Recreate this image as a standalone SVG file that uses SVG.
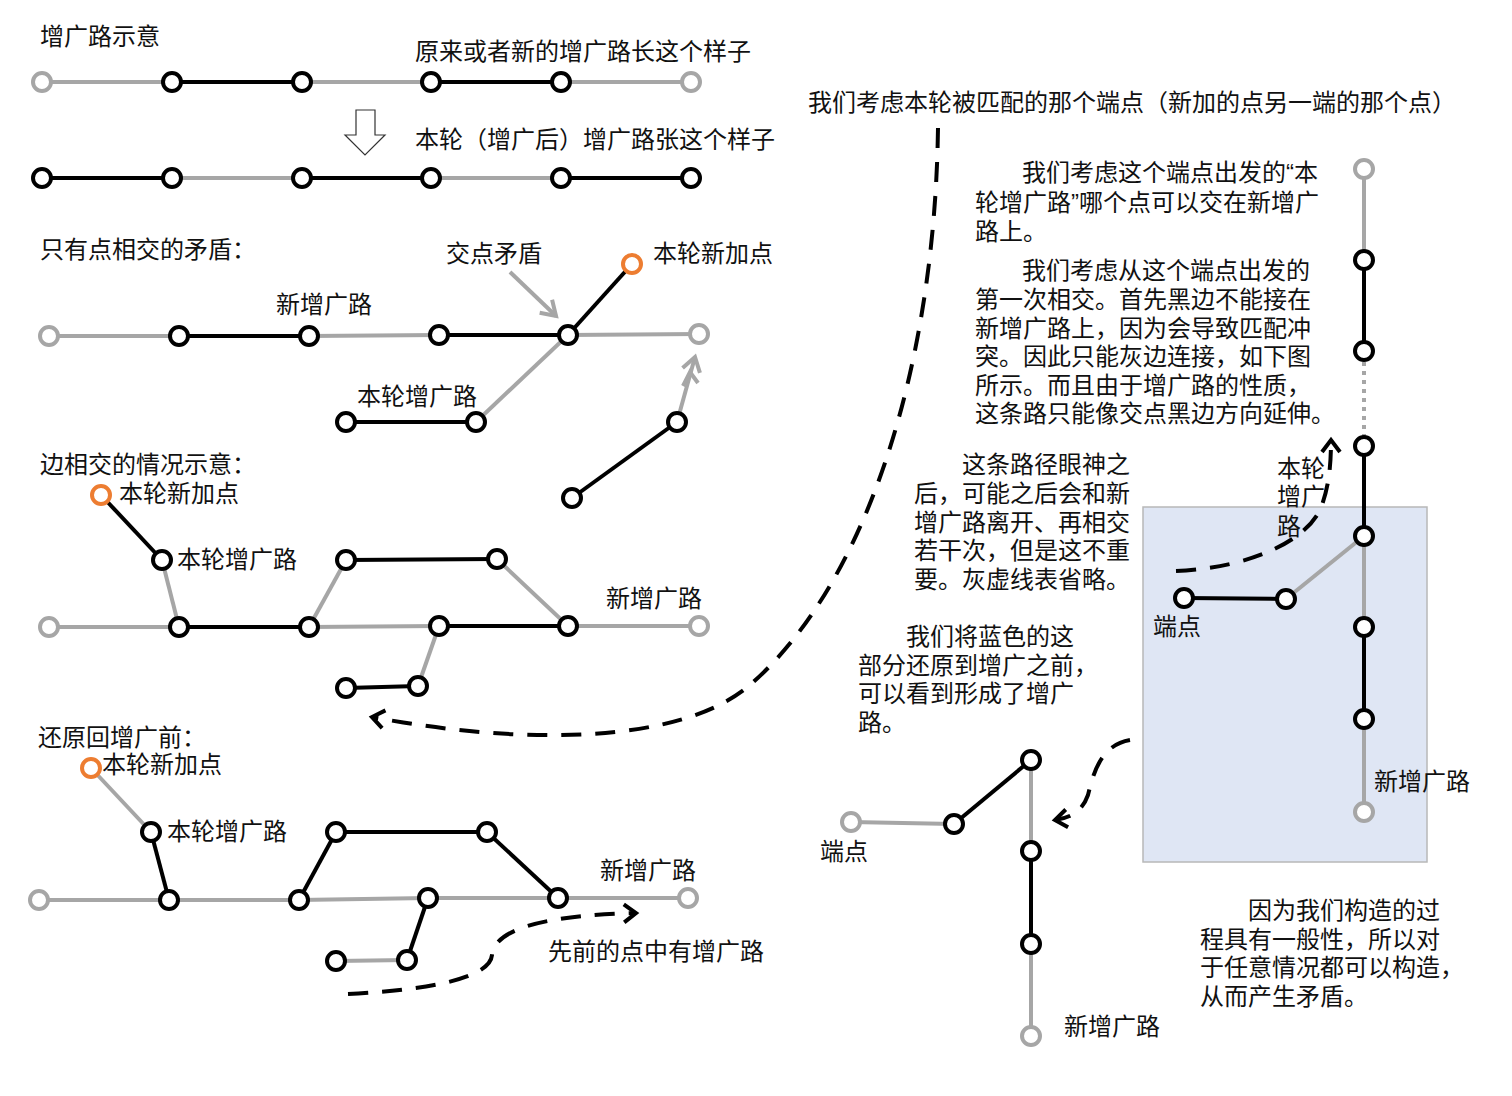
<svg xmlns="http://www.w3.org/2000/svg" width="1512" height="1096" viewBox="0 0 1512 1096">
<style>
text{font-family:"Noto Sans CJK SC","Noto Sans",sans-serif;font-size:24px;fill:#111}
.q{font-family:"Liberation Sans",sans-serif}
.n{fill:#fff;stroke:#000;stroke-width:4}
.g{fill:#fff;stroke:#a6a6a6;stroke-width:4}
.o{fill:#fff;stroke:#ed7d31;stroke-width:4}
.eb{stroke:#000;stroke-width:4;fill:none}
.eg{stroke:#a6a6a6;stroke-width:4;fill:none}
.dash{stroke:#000;stroke-width:4;fill:none;stroke-dasharray:20 14}
</style>
<defs>
<marker id="chev" markerUnits="userSpaceOnUse" markerWidth="30" markerHeight="30" refX="0" refY="0" viewBox="-20 -15 30 30" orient="auto" overflow="visible">
<path d="M-12,-9 L0,0 L-12,9" fill="none" stroke="#000" stroke-width="4"/>
</marker>
<marker id="chevg" markerUnits="userSpaceOnUse" markerWidth="30" markerHeight="30" refX="0" refY="0" viewBox="-20 -15 30 30" orient="auto" overflow="visible">
<path d="M-14,-9 L0,0 L-14,9" fill="none" stroke="#a6a6a6" stroke-width="4"/>
</marker>
</defs>
<rect id="blue-region" x="1143" y="507" width="284" height="355" fill="#dfe6f4" stroke="#b8b8b8" stroke-width="1.5"/>
<g id="connectors">
<line class="eg" x1="42" y1="82" x2="172" y2="82"/>
<line class="eb" x1="172" y1="82" x2="302" y2="82"/>
<line class="eg" x1="302" y1="82" x2="431" y2="82"/>
<line class="eb" x1="431" y1="82" x2="561" y2="82"/>
<line class="eg" x1="561" y1="82" x2="691" y2="82"/>
<line class="eb" x1="42" y1="178" x2="172" y2="178"/>
<line class="eg" x1="172" y1="178" x2="302" y2="178"/>
<line class="eb" x1="302" y1="178" x2="431" y2="178"/>
<line class="eg" x1="431" y1="178" x2="561" y2="178"/>
<line class="eb" x1="561" y1="178" x2="691" y2="178"/>
<line class="eg" x1="49" y1="336" x2="179" y2="336"/>
<line class="eb" x1="179" y1="336" x2="309" y2="336"/>
<line class="eg" x1="309" y1="336" x2="439" y2="335"/>
<line class="eb" x1="439" y1="335" x2="568" y2="335"/>
<line class="eg" x1="568" y1="335" x2="699" y2="334"/>
<line class="eb" x1="568" y1="335" x2="632" y2="264"/>
<line class="eb" x1="346" y1="422" x2="476" y2="422"/>
<line class="eg" x1="476" y1="422" x2="568" y2="335"/>
<line class="eb" x1="572" y1="498" x2="677" y2="422"/>
<line class="eg" x1="677" y1="422" x2="695" y2="357" marker-end="url(#chevg)"/>
<path d="M683,386 L690,372 L698,383" fill="none" stroke="#a6a6a6" stroke-width="4"/>
<line class="eg" x1="510" y1="272" x2="556" y2="316" marker-end="url(#chevg)"/>
<line class="eb" x1="101" y1="495" x2="162" y2="560"/>
<line class="eg" x1="162" y1="560" x2="179" y2="627"/>
<line class="eg" x1="49" y1="627" x2="179" y2="627"/>
<line class="eb" x1="179" y1="627" x2="309" y2="627"/>
<line class="eg" x1="309" y1="627" x2="439" y2="626"/>
<line class="eb" x1="439" y1="626" x2="568" y2="626"/>
<line class="eg" x1="568" y1="626" x2="699" y2="626"/>
<line class="eg" x1="309" y1="627" x2="346" y2="560"/>
<line class="eb" x1="346" y1="560" x2="497" y2="559"/>
<line class="eg" x1="497" y1="559" x2="568" y2="626"/>
<line class="eb" x1="346" y1="688" x2="418" y2="686"/>
<line class="eg" x1="418" y1="686" x2="439" y2="626"/>
<line class="eg" x1="91" y1="768" x2="151" y2="832"/>
<line class="eb" x1="151" y1="832" x2="169" y2="900"/>
<line class="eg" x1="39" y1="900" x2="169" y2="900"/>
<line class="eg" x1="169" y1="900" x2="299" y2="900"/>
<line class="eg" x1="299" y1="900" x2="428" y2="898"/>
<line class="eg" x1="428" y1="898" x2="558" y2="898"/>
<line class="eg" x1="558" y1="898" x2="688" y2="898"/>
<line class="eb" x1="299" y1="900" x2="336" y2="832"/>
<line class="eb" x1="336" y1="832" x2="487" y2="832"/>
<line class="eb" x1="487" y1="832" x2="558" y2="898"/>
<line class="eg" x1="336" y1="961" x2="407" y2="960"/>
<line class="eb" x1="407" y1="960" x2="428" y2="898"/>
<path class="dash" d="M348,994 C430,990 490,978 492,955 C495,925 560,915 636,913" marker-end="url(#chev)"/>
<path class="dash" d="M938,128 C935,360 870,580 750,685 C680,745 520,745 372,717" marker-end="url(#chev)"/>
<line class="eg" x1="1364" y1="169" x2="1364" y2="260"/>
<line class="eb" x1="1364" y1="260" x2="1364" y2="351"/>
<line x1="1364" y1="362" x2="1364" y2="436" stroke="#a6a6a6" stroke-width="4" stroke-dasharray="4 5"/>
<line class="eb" x1="1364" y1="446" x2="1364" y2="536"/>
<line class="eg" x1="1364" y1="536" x2="1364" y2="627"/>
<line class="eb" x1="1364" y1="627" x2="1364" y2="719"/>
<line class="eg" x1="1364" y1="719" x2="1364" y2="812"/>
<line class="eb" x1="1184" y1="598" x2="1286" y2="599"/>
<line class="eg" x1="1286" y1="599" x2="1364" y2="536"/>
<path class="dash" d="M1176,571 C1250,568 1310,540 1322,505 C1329,485 1331,465 1331,440" marker-end="url(#chev)"/>
<line class="eg" x1="851" y1="822" x2="954" y2="824"/>
<line class="eb" x1="954" y1="824" x2="1031" y2="760"/>
<line class="eg" x1="1031" y1="760" x2="1031" y2="851"/>
<line class="eb" x1="1031" y1="851" x2="1031" y2="944"/>
<line class="eg" x1="1031" y1="944" x2="1031" y2="1036"/>
<path class="dash" d="M1130,740 C1100,745 1093,775 1088,795 C1082,812 1070,818 1055,820" marker-end="url(#chev)"/>
</g>
<g id="arrow-down"><polygon points="356,110 375,110 375,135 385,135 365,155 345,135 356,135" fill="#fff" stroke="#333" stroke-width="1.2"/></g>
<g id="nodes">
<g id="r1"><circle class="g" cx="42" cy="82" r="9"/><circle class="n" cx="172" cy="82" r="9"/><circle class="n" cx="302" cy="82" r="9"/><circle class="n" cx="431" cy="82" r="9"/><circle class="n" cx="561" cy="82" r="9"/><circle class="g" cx="691" cy="82" r="9"/></g>
<g id="r2"><circle class="n" cx="42" cy="178" r="9"/><circle class="n" cx="172" cy="178" r="9"/><circle class="n" cx="302" cy="178" r="9"/><circle class="n" cx="431" cy="178" r="9"/><circle class="n" cx="561" cy="178" r="9"/><circle class="n" cx="691" cy="178" r="9"/></g>
<g id="s2"><circle class="g" cx="49" cy="336" r="9"/><circle class="n" cx="179" cy="336" r="9"/><circle class="n" cx="309" cy="336" r="9"/><circle class="n" cx="439" cy="335" r="9"/><circle class="n" cx="568" cy="335" r="9"/><circle class="g" cx="699" cy="334" r="9"/><circle class="o" cx="632" cy="264" r="9"/><circle class="n" cx="346" cy="422" r="9"/><circle class="n" cx="476" cy="422" r="9"/><circle class="n" cx="572" cy="498" r="9"/><circle class="n" cx="677" cy="422" r="9"/></g>
<g id="s3"><circle class="o" cx="101" cy="495" r="9"/><circle class="n" cx="162" cy="560" r="9"/><circle class="g" cx="49" cy="627" r="9"/><circle class="n" cx="179" cy="627" r="9"/><circle class="n" cx="309" cy="627" r="9"/><circle class="n" cx="439" cy="626" r="9"/><circle class="n" cx="568" cy="626" r="9"/><circle class="g" cx="699" cy="626" r="9"/><circle class="n" cx="346" cy="560" r="9"/><circle class="n" cx="497" cy="559" r="9"/><circle class="n" cx="346" cy="688" r="9"/><circle class="n" cx="418" cy="686" r="9"/></g>
<g id="s4"><circle class="o" cx="91" cy="768" r="9"/><circle class="n" cx="151" cy="832" r="9"/><circle class="g" cx="39" cy="900" r="9"/><circle class="n" cx="169" cy="900" r="9"/><circle class="n" cx="299" cy="900" r="9"/><circle class="n" cx="428" cy="898" r="9"/><circle class="n" cx="558" cy="898" r="9"/><circle class="g" cx="688" cy="898" r="9"/><circle class="n" cx="336" cy="832" r="9"/><circle class="n" cx="487" cy="832" r="9"/><circle class="n" cx="336" cy="961" r="9"/><circle class="n" cx="407" cy="960" r="9"/></g>
<g id="rv"><circle class="g" cx="1364" cy="169" r="9"/><circle class="n" cx="1364" cy="260" r="9"/><circle class="n" cx="1364" cy="351" r="9"/><circle class="n" cx="1364" cy="446" r="9"/><circle class="n" cx="1364" cy="536" r="9"/><circle class="n" cx="1364" cy="627" r="9"/><circle class="n" cx="1364" cy="719" r="9"/><circle class="g" cx="1364" cy="812" r="9"/><circle class="n" cx="1184" cy="598" r="9"/><circle class="n" cx="1286" cy="599" r="9"/></g>
<g id="bm"><circle class="g" cx="851" cy="822" r="9"/><circle class="n" cx="954" cy="824" r="9"/><circle class="n" cx="1031" cy="760" r="9"/><circle class="n" cx="1031" cy="851" r="9"/><circle class="n" cx="1031" cy="944" r="9"/><circle class="g" cx="1031" cy="1036" r="9"/></g>
</g>
<g id="labels">
<text x="40" y="45">增广路示意</text>
<text x="415" y="60">原来或者新的增广路长这个样子</text>
<text x="415" y="148">本轮（增广后）增广路张这个样子</text>
<text x="40" y="258">只有点相交的矛盾：</text>
<text x="446" y="262">交点矛盾</text>
<text x="653" y="262">本轮新加点</text>
<text x="276" y="313">新增广路</text>
<text x="357" y="405">本轮增广路</text>
<text x="40" y="473">边相交的情况示意：</text>
<text x="119" y="502">本轮新加点</text>
<text x="177" y="568">本轮增广路</text>
<text x="606" y="607">新增广路</text>
<text x="38" y="746">还原回增广前：</text>
<text x="102" y="773">本轮新加点</text>
<text x="167" y="840">本轮增广路</text>
<text x="600" y="879">新增广路</text>
<text x="548" y="960">先前的点中有增广路</text>
<text x="808" y="111">我们考虑本轮被匹配的那个端点（新加的点另一端的那个点）</text>
<text x="1022" y="181">我们考虑这个端点出发的<tspan class="q">“</tspan>本</text>
<text x="975" y="211">轮增广路<tspan class="q">”</tspan>哪个点可以交在新增广</text>
<text x="975" y="240">路上。</text>
<text x="1022" y="279">我们考虑从这个端点出发的</text>
<text x="975" y="308">第一次相交。首先黑边不能接在</text>
<text x="975" y="337">新增广路上，因为会导致匹配冲</text>
<text x="975" y="365">突。因此只能灰边连接，如下图</text>
<text x="975" y="394">所示。而且由于增广路的性质，</text>
<text x="975" y="422">这条路只能像交点黑边方向延伸。</text>
<text x="962" y="473">这条路径眼神之</text>
<text x="914" y="502">后，可能之后会和新</text>
<text x="914" y="531">增广路离开、再相交</text>
<text x="914" y="559">若干次，但是这不重</text>
<text x="914" y="588">要。灰虚线表省略。</text>
<text x="1277" y="477">本轮</text>
<text x="1277" y="505">增广</text>
<text x="1277" y="535">路</text>
<text x="1153" y="635">端点</text>
<text x="1374" y="790">新增广路</text>
<text x="906" y="645">我们将蓝色的这</text>
<text x="858" y="674">部分还原到增广之前，</text>
<text x="858" y="702">可以看到形成了增广</text>
<text x="858" y="731">路。</text>
<text x="820" y="860">端点</text>
<text x="1064" y="1035">新增广路</text>
<text x="1248" y="919">因为我们构造的过</text>
<text x="1200" y="948">程具有一般性，所以对</text>
<text x="1200" y="976">于任意情况都可以构造，</text>
<text x="1200" y="1005">从而产生矛盾。</text>
</g>
</svg>
